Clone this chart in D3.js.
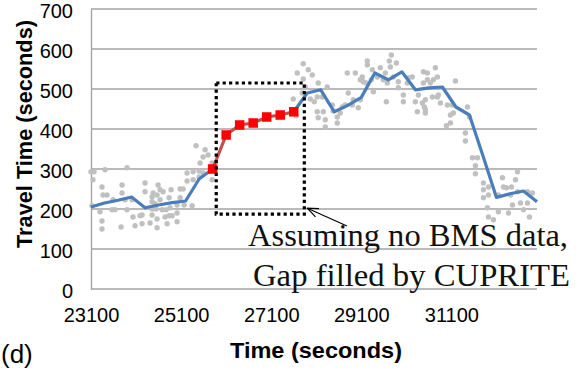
<!DOCTYPE html>
<html>
<head>
<meta charset="utf-8">
<script src="https://cdn.jsdelivr.net/npm/d3@7"></script>
<style>
  html, body { margin: 0; padding: 0; background: #fff; }
  svg { display: block; }
  .tick text { font-family: "Liberation Sans", Arial, sans-serif; font-size: 20px; fill: #000; }
</style>
</head>
<body>
<svg id="chart" width="576" height="371"></svg>
<script>
// Axis ticks
const xTicks = [23100, 25100, 27100, 29100, 31100];
const yTicks = [0, 100, 200, 300, 400, 500, 600, 700];

// Smoothed BMS travel time (5-minute steps), before and after the data gap
const bmsBeforeTime = [23100, 23400, 23700, 24000, 24300, 24600, 24900, 25200, 25500, 25800];
const bmsBeforeValue = [205, 215, 222, 230, 203, 210, 216, 220, 275, 300];
const bmsAfterTime = [27600, 27900, 28200, 28500, 28800, 29100, 29400, 29700, 30000, 30300,
                      30600, 30900, 31200, 31500, 31800, 32100, 32400, 32700, 33000];
const bmsAfterValue = [443, 490, 498, 443, 459, 479, 540, 523, 543, 498,
                       503, 505, 455, 435, 333, 229, 238, 245, 218];

// Travel times estimated by CUPRITE inside the gap
const cupriteTime = [25800, 26100, 26400, 26700, 27000, 27300, 27600];
const cupriteValue = [300, 385, 410, 415, 430, 435, 443];

// Individual vehicle travel-time observations [time, travel time]
const observations = [
  [25433,358],[25589,330],[25522,315],[25700,335],[25789,315],[25500,295],[25367,293],[25233,290],
  [25589,290],[25367,273],[25233,270],[25789,273],[25500,280],[23167,293],[23411,298],[23900,303],
  [23144,273],[23344,255],[23367,235],[23456,235],[23789,260],[23789,240],[24300,265],[24300,243],
  [24589,260],[24633,248],[24478,240],[24567,235],[24456,230],[24700,243],[24878,248],[25078,250],
  [25144,250],[24833,228],[25078,228],[24633,223],[24456,218],[24522,213],[25011,210],[25167,210],
  [25344,208],[23589,223],[23567,198],[23633,198],[23856,223],[23900,198],[24011,223],[23300,193],
  [23122,208],[23344,170],[23344,150],[23767,155],[24033,180],[24189,183],[24233,185],[24078,158],
  [24233,163],[24411,165],[24456,185],[24567,175],[24567,153],[24744,180],[24789,163],[24833,183],
  [24900,183],[25011,190],[25011,168],[24678,198],[24767,198],[24856,203],[24544,200],[24456,200],
  [23100,293],[25633,348],
  [27811,563],[27678,540],[27922,548],[28011,535],[27811,525],[27856,505],[28144,515],[28344,505],
  [27589,475],[27789,490],[28056,468],[28122,480],[27967,475],[28233,480],[28122,443],[28256,443],
  [28144,428],[28300,423],[28300,405],[27656,433],[28456,460],[28478,445],[28567,430],[28567,415],
  [28633,440],[28678,455],[28744,460],[28811,490],[28922,473],[28900,460],[29033,453],[29078,473],
  [28789,540],[28967,540],[29122,530],[29233,570],[29233,560],[29078,523],[29144,518],[29344,548],
  [29322,523],[29211,515],[29367,493],[29456,530],[29522,553],[29633,540],[29589,523],[29678,515],
  [29744,555],[29767,585],[29722,570],[29878,565],[29811,530],[29922,518],[29656,468],[29922,503],
  [30033,485],[30122,515],[30033,468],[30144,528],[30233,530],[30300,468],[30367,485],[30344,443],
  [30456,465],[30522,448],[30478,543],[30567,540],[30567,523],[30744,553],[30700,523],[30789,530],
  [30789,480],[30478,515],[30633,515],[31189,520],[30522,473],[30500,455],[30522,440],[30678,480],
  [30856,465],[30811,485],[31011,460],[31122,460],[31144,440],[31078,435],[31078,415],[30989,408],
  [31456,455],[31500,430],[31411,390],[31411,370],[31567,328],[31678,328],[31633,308],[31633,288],
  [31811,265],[31811,248],[31922,255],[31922,235],[31811,228],[31900,203],[31922,180],[32033,173],
  [32233,278],[32256,255],[32322,253],[32433,255],[32567,293],[32522,273],[32144,235],[32411,235],
  [32567,243],[32789,243],[32900,240],[32633,215],[32789,215],[32456,210],[32367,190],[32144,193],
  [32700,198],[32833,180]
];

// Highlighted gap region (time range, travel-time range)
const gapTime = [25880, 27835];
const gapValue = [187, 515];

const noteLines = ["Assuming no BMS data,", "Gap filled by CUPRITE"];

const svg = d3.select("#chart");
const plot = { left: 91, right: 537, top: 9, bottom: 289 };

const x = d3.scaleLinear().domain([23100, 33000]).range([plot.left, plot.right]);
const y = d3.scaleLinear().domain([0, 700]).range([plot.bottom, plot.top]);

const gridColor = "#a3a3a3";

// Horizontal gridlines
svg.append("g")
  .selectAll("line")
  .data(yTicks.filter(d => d > 0))
  .join("line")
  .attr("x1", plot.left).attr("x2", plot.right)
  .attr("y1", d => y(d)).attr("y2", d => y(d))
  .attr("stroke", gridColor).attr("stroke-width", 1.4);

// Axes
const yAxis = svg.append("g")
  .attr("transform", `translate(${plot.left},0)`)
  .call(d3.axisLeft(y).tickValues(yTicks).tickSize(0).tickPadding(18).tickFormat(d3.format("d")));
yAxis.select(".domain").attr("stroke", gridColor).attr("stroke-width", 1.4);
yAxis.selectAll(".tick text").attr("dy", "0.42em");

const xAxis = svg.append("g")
  .attr("transform", `translate(0,${plot.bottom})`)
  .call(d3.axisBottom(x).tickValues(xTicks).tickSize(0).tickPadding(19).tickFormat(d3.format("d")));
xAxis.select(".domain").attr("stroke", gridColor).attr("stroke-width", 1.4)
  .attr("d", `M${plot.left},0H${plot.right}`);

// Observations
svg.append("g")
  .selectAll("circle")
  .data(observations)
  .join("circle")
  .attr("cx", d => x(d[0]))
  .attr("cy", d => y(d[1]))
  .attr("r", 2.7)
  .attr("fill", "#c0c0c0");

// BMS smoothed line
const line = d3.line().x(d => x(d[0])).y(d => y(d[1]));
const before = bmsBeforeTime.map((t, i) => [t, bmsBeforeValue[i]]);
const after = bmsAfterTime.map((t, i) => [t, bmsAfterValue[i]]);
[before, after].forEach(seg => {
  svg.append("path")
    .datum(seg)
    .attr("d", line)
    .attr("fill", "none")
    .attr("stroke", "#4a7ebb")
    .attr("stroke-width", 3.2)
    .attr("stroke-linejoin", "round");
});

// CUPRITE estimate
const cup = cupriteTime.map((t, i) => [t, cupriteValue[i]]);
svg.append("path")
  .datum(cup)
  .attr("d", line)
  .attr("fill", "none")
  .attr("stroke", "#c0504d")
  .attr("stroke-width", 3.2);
const ms = 9.5;
svg.append("g")
  .selectAll("rect")
  .data(cup)
  .join("rect")
  .attr("x", d => x(d[0]) - ms / 2)
  .attr("y", d => y(d[1]) - ms / 2)
  .attr("width", ms).attr("height", ms)
  .attr("fill", "#ff0000");

// Dotted box around the gap
const bx0 = x(gapTime[0]), bx1 = x(gapTime[1]);
const by0 = y(gapValue[1]), by1 = y(gapValue[0]);
svg.append("rect")
  .attr("x", bx0).attr("y", by0)
  .attr("width", bx1 - bx0).attr("height", by1 - by0)
  .attr("fill", "none")
  .attr("stroke", "#000")
  .attr("stroke-width", 3.2)
  .attr("stroke-dasharray", "3.2,3.2");

// Arrow from the note to the box
svg.append("defs").append("marker")
  .attr("id", "head")
  .attr("viewBox", "0 -6 12 12")
  .attr("refX", 11).attr("refY", 0)
  .attr("markerWidth", 12).attr("markerHeight", 12)
  .attr("markerUnits", "userSpaceOnUse")
  .attr("orient", "auto")
  .append("path")
  .attr("d", "M0,-4.5L11,0L0,4.5")
  .attr("fill", "none")
  .attr("stroke", "#000")
  .attr("stroke-width", 1.2);
svg.append("line")
  .attr("x1", 347).attr("y1", 226)
  .attr("x2", bx1 + 3).attr("y2", by1 - 6)
  .attr("stroke", "#000")
  .attr("stroke-width", 1.2)
  .attr("marker-end", "url(#head)");

// Note text
const note = svg.append("g")
  .attr("font-family", "'Liberation Serif', 'DejaVu Serif', serif")
  .attr("font-size", 32)
  .attr("fill", "#111");
note.append("text").attr("x", 248).attr("y", 246)
  .attr("textLength", 320).attr("lengthAdjust", "spacingAndGlyphs").text(noteLines[0]);
note.append("text").attr("x", 253).attr("y", 286)
  .attr("textLength", 317).attr("lengthAdjust", "spacingAndGlyphs").text(noteLines[1]);

// Axis titles
svg.append("text")
  .attr("transform", "translate(32,134) rotate(-90)")
  .attr("text-anchor", "middle")
  .attr("font-family", "'Liberation Sans', Arial, sans-serif")
  .attr("font-weight", "bold")
  .attr("font-size", 22)
  .attr("textLength", 228).attr("lengthAdjust", "spacingAndGlyphs")
  .text("Travel Time (seconds)");

svg.append("text")
  .attr("x", 316).attr("y", 358)
  .attr("text-anchor", "middle")
  .attr("font-family", "'Liberation Sans', Arial, sans-serif")
  .attr("font-weight", "bold")
  .attr("font-size", 22)
  .attr("textLength", 172).attr("lengthAdjust", "spacingAndGlyphs")
  .text("Time (seconds)");

svg.append("text")
  .attr("x", 1).attr("y", 363)
  .attr("font-family", "'Liberation Sans', Arial, sans-serif")
  .attr("font-size", 26)
  .text("(d)");
</script>
</body>
</html>
